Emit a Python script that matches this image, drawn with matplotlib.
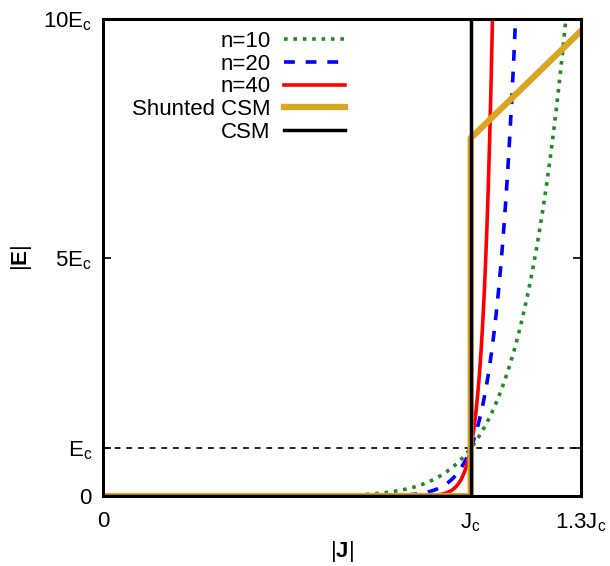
import numpy as np
import matplotlib
matplotlib.use("Agg")
import matplotlib.pyplot as plt

plt.rcParams['font.family'] = ['Liberation Sans', 'DejaVu Sans']
plt.rcParams['mathtext.fontset'] = 'custom'
plt.rcParams['mathtext.rm'] = 'Liberation Sans'
plt.rcParams['mathtext.it'] = 'Liberation Sans:italic'
plt.rcParams['mathtext.bf'] = 'Liberation Sans:bold'

# Data (in units of Jc and Ec)
n_values = [10, 20, 40]
n_colors = ['#228B22', '#0000FF', '#FF0000']
n_styles = [(0, (1, 1.6)), (0, (3, 3)), '-']
shunted_J = [0.0, 1.0, 1.0, 1.3]
shunted_E = [0.0, 0.0, 7.5, 9.75]
csm_J = [0.0, 1.0, 1.0]
csm_E = [0.0, 0.0, 10.0]
ec_level = 1.0
xticks = [0, 1.0, 1.3]
xticklabels = ['0', r'J$_\mathrm{c}$', r'1.3J$_\mathrm{c}$']
yticks = [0, 1, 5, 10]
yticklabels = ['0', r'E$_\mathrm{c}$', r'5E$_\mathrm{c}$', r'10E$_\mathrm{c}$']

fig = plt.figure(figsize=(6.1, 5.66), dpi=100)
ax = fig.add_axes([103/610, 1-496/566, 478/610, 477/566])

J = np.linspace(0, 1.3, 2000)
for n, c, ls in zip(n_values, n_colors, n_styles):
    ax.plot(J, J**n, color=c, ls=ls, lw=2.6, label=f'n={n}')

ax.plot(shunted_J, shunted_E, color='#DAA520', lw=4.5, label='Shunted CSM')
ax.plot(csm_J, csm_E, color='black', lw=2.5, label='CSM')
ax.axhline(ec_level, color='black', lw=1.2, ls=(0, (3.5, 3.5)), zorder=0)

ax.set_xlim(0, 1.3)
ax.set_ylim(0, 10)
ax.set_xticks(xticks)
ax.set_xticklabels(xticklabels)
ax.set_yticks(yticks)
ax.set_yticklabels(yticklabels)
ax.tick_params(direction='in', length=6, width=1.2, top=True, right=True,
               labelsize=16, pad=8)
ax.tick_params(axis='x', pad=11)
for s in ax.spines.values():
    s.set_linewidth(2.2)

ax.set_xlabel(r'|$\mathbf{J}$|', fontsize=16, labelpad=4)
ax.set_ylabel(r'|$\mathbf{E}$|', fontsize=16, labelpad=6)

leg = ax.legend(loc='upper right', bbox_to_anchor=(0.506, 0.975),
                frameon=False, markerfirst=False, fontsize=16,
                handlelength=2.75, handletextpad=0.6, labelspacing=0.08,
                borderpad=0, borderaxespad=0)
for t in leg.get_texts():
    t.set_ha('right')

fig.savefig('out.png', dpi=100)
